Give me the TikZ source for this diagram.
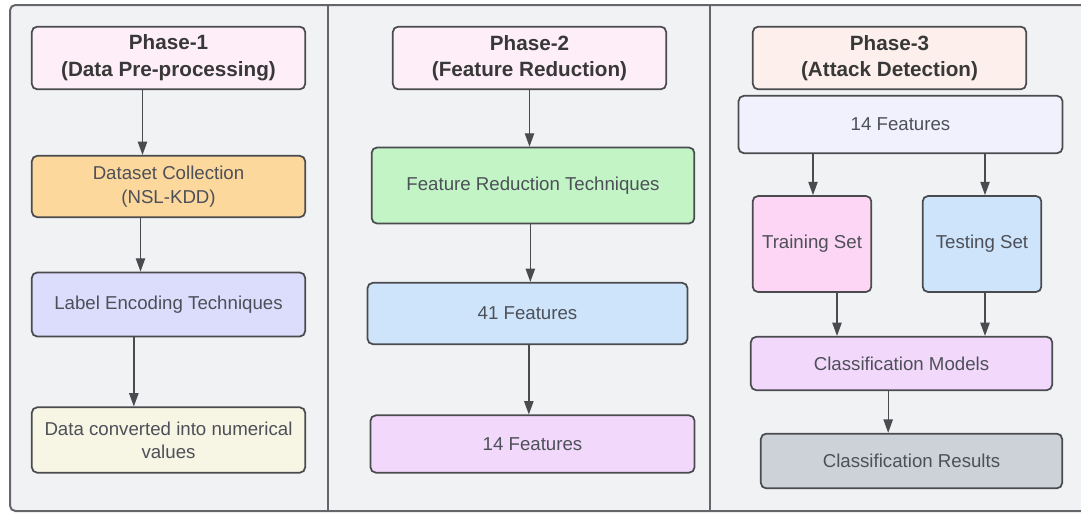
\documentclass[tikz,border=0pt]{standalone}
\usepackage{fontspec}
\setmainfont{Liberation Sans}
\usetikzlibrary{arrows.meta}
\definecolor{panelbg}{HTML}{F1F2F4}
\definecolor{edge}{HTML}{4A4B4F}
\definecolor{txt}{HTML}{4D5058}
\definecolor{phaseA}{HTML}{FDEEF8}
\definecolor{phaseC}{HTML}{FDF0EC}
\definecolor{orangebox}{HTML}{FCD89C}
\definecolor{lilacbox}{HTML}{DCDCFC}
\definecolor{creambox}{HTML}{F7F5E3}
\definecolor{greenbox}{HTML}{C2F4C6}
\definecolor{bluebox}{HTML}{CDE4FA}
\definecolor{mauvebox}{HTML}{F2D8FB}
\definecolor{palebox}{HTML}{F1F1FD}
\definecolor{pinkbox}{HTML}{FCD6F4}
\definecolor{greybox}{HTML}{CCD2D8}
\begin{document}
\begin{tikzpicture}[x=0.75pt,y=-0.75pt,
  box/.style={draw=edge,line width=1.3pt,rounded corners=4pt,text=txt,align=center,
    font=\fontsize{14}{17.5}\selectfont},
  phase/.style={box,fill=phaseA,minimum width=205pt,minimum height=47pt,text=black!78,
    font=\fontsize{15.5}{20}\selectfont\bfseries},
  >={Triangle[width=7pt,length=10pt]}]
\useasboundingbox (0,0) rectangle (1081,514);
% panels
\begin{scope}
\clip (0,0) rectangle (1081,514);
\draw [fill=panelbg,draw=edge!85,line width=1.5pt,rounded corners=4pt] (10,5) rectangle (1100,511);
\end{scope}
\draw [edge!85,line width=1.5pt] (328,5) -- (328,511);
\draw [edge!85,line width=1.5pt] (710,5) -- (710,511);
% phase 1
\node [phase] (p1) at (168.5,58) {Phase-1\\(Data Pre-processing)};
\node [box,fill=orangebox,minimum width=205pt,minimum height=46pt] (dc) at (168.5,186.5) {Dataset Collection\\(NSL-KDD)};
\node [box,fill=lilacbox,minimum width=205pt,minimum height=48pt] (le) at (168.5,304.5) {Label Encoding Techniques};
\node [box,fill=creambox,minimum width=205pt,minimum height=49pt] (dv) at (168.5,440) {Data converted into numerical\\values};
\draw [->,line width=1pt,edge] ([xshift=-19.5pt]p1.south) -- ([xshift=-19.5pt]dc.north);
\draw [->,line width=1pt,edge] ([xshift=-21pt]dc.south) -- ([xshift=-21pt]le.north);
\draw [->,line width=1pt,edge] ([xshift=-26pt]le.south) -- ([xshift=-26pt]dv.north);
% phase 2
\node [phase] (p2) at (529.5,58) {Phase-2\\(Feature Reduction)};
\node [box,fill=greenbox,minimum width=242pt,minimum height=57pt] (fr) at (533,185.5) {Feature Reduction Techniques};
\node [box,fill=bluebox,minimum width=240pt,minimum height=46pt] (f41) at (527.5,313.5) {41 Features};
\node [box,fill=mauvebox,minimum width=243pt,minimum height=43pt] (f14) at (532.5,444) {14 Features};
\draw [->,line width=1pt,edge] (p2.south) -- (p2.south |- fr.north);
\draw [->,line width=1pt,edge] ([xshift=-2pt]fr.south) -- ([xshift=-2pt]fr.south |- f41.north);
\draw [->,line width=1pt,edge] ([xshift=1pt]f41.south) -- ([xshift=1pt]f41.south |- f14.north);
% phase 3
\node [phase,fill=phaseC] (p3) at (889.5,58) {Phase-3\\(Attack Detection)};
\node [box,fill=palebox,minimum width=243pt,minimum height=43pt] (g14) at (900.5,124.5) {14 Features};
\node [box,fill=pinkbox,minimum width=89pt,minimum height=72pt] (tr) at (812,244) {Training Set};
\node [box,fill=bluebox,minimum width=89pt,minimum height=72pt] (te) at (982,244) {Testing Set};
\node [box,fill=mauvebox,minimum width=226pt,minimum height=40pt] (cm) at (901.5,363.5) {Classification Models};
\node [box,fill=greybox,minimum width=226pt,minimum height=41pt] (cr) at (911.5,461) {Classification Results};
\draw [->,line width=1pt,edge] ([xshift=0.75pt]tr.north |- g14.south) -- ([xshift=0.75pt]tr.north);
\draw [->,line width=1pt,edge] ([xshift=2.25pt]te.north |- g14.south) -- ([xshift=2.25pt]te.north);
\draw [->,line width=1pt,edge] ([xshift=18.75pt]tr.south) -- ([xshift=18.75pt]tr.south |- cm.north);
\draw [->,line width=1pt,edge] ([xshift=2.25pt]te.south) -- ([xshift=2.25pt]te.south |- cm.north);
\draw [->,line width=1pt,edge] ([xshift=-10pt]cm.south) -- ([xshift=-10pt]cm.south |- cr.north);
\end{tikzpicture}
\end{document}
